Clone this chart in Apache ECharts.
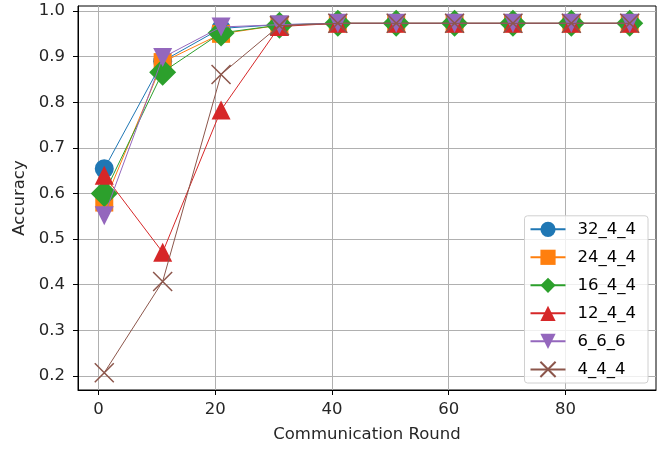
<!DOCTYPE html>
<html>
<head>
<meta charset="utf-8">
<script src="https://cdn.jsdelivr.net/npm/echarts@6/dist/echarts.min.js"></script>
<style>html,body{margin:0;padding:0;background:#fff}#c{width:672px;height:450px}</style>
</head>
<body>
<div id="c"></div>
<script>
const rounds = [1, 11, 21, 31, 41, 51, 61, 71, 81, 91];
const s32_4_4 = [0.654, 0.890, 0.962, 0.970, 0.973, 0.973, 0.973, 0.973, 0.973, 0.973];
const s24_4_4 = [0.580, 0.888, 0.950, 0.969, 0.973, 0.973, 0.973, 0.973, 0.973, 0.973];
const s16_4_4 = [0.600, 0.866, 0.952, 0.969, 0.973, 0.973, 0.973, 0.973, 0.973, 0.973];
const s12_4_4 = [0.640, 0.471, 0.783, 0.966, 0.973, 0.973, 0.973, 0.973, 0.973, 0.973];
const s6_6_6  = [0.551, 0.898, 0.965, 0.970, 0.973, 0.973, 0.973, 0.973, 0.973, 0.973];
const s4_4_4  = [0.207, 0.407, 0.861, 0.968, 0.973, 0.973, 0.973, 0.973, 0.973, 0.973];
const xTicks = [0, 20, 40, 60, 80];
const yTicks = [0.2, 0.3, 0.4, 0.5, 0.6, 0.7, 0.8, 0.9, 1.0];

const names = ['32_4_4', '24_4_4', '16_4_4', '12_4_4', '6_6_6', '4_4_4'];
const values = [s32_4_4, s24_4_4, s16_4_4, s12_4_4, s6_6_6, s4_4_4];
const colors = ['#1f77b4', '#ff7f0e', '#2ca02c', '#d62728', '#9467bd', '#8c564b'];
const symbols = ['circle', 'rect', 'diamond', 'triangle', 'triangle', 'path://M0,0L10,10M10,0L0,10'];
const sizes = [19, 18, 27, 19, 19, 19];
const rotates = [0, 0, 0, 0, 180, 0];

const font = 'DejaVu Sans';
const fs = 16.5;
const series = names.map((n, i) => ({
  name: n,
  type: 'line',
  data: rounds.map((r, j) => [r, values[i][j]]),
  symbol: symbols[i],
  symbolSize: sizes[i],
  symbolRotate: rotates[i],
  showAllSymbol: true,
  lineStyle: { color: colors[i], width: 1 },
  itemStyle: i === 5 ? { color: colors[i], borderColor: colors[i], borderWidth: 1.5 } : { color: colors[i], borderWidth: 0 },
  emphasis: { disabled: true },
  animation: false,
  z: 2 + i
}));

const chart = echarts.init(document.getElementById('c'));
chart.setOption({
  animation: false,
  grid: { left: 78, right: 16, top: 6, bottom: 60, show: true, borderColor: '#000', borderWidth: 1 },
  xAxis: {
    type: 'value', min: -3.5, max: 95.5,
    name: 'Communication Round', nameLocation: 'middle', nameGap: 36,
    nameTextStyle: { fontFamily: font, fontSize: fs, color: '#262626' },
    axisLine: { show: true, onZero: false, lineStyle: { color: '#000' } },
    axisTick: { show: true, inside: false, length: 5, customValues: xTicks, lineStyle: { color: '#000' } },
    axisLabel: { customValues: xTicks, margin: 11, fontFamily: font, fontSize: fs, color: '#262626' },
    splitLine: { show: true, lineStyle: { color: '#b0b0b0', width: 1 } }
  },
  yAxis: {
    type: 'value', min: 0.169, max: 1.011,
    name: 'Accuracy', nameLocation: 'middle', nameGap: 45,
    nameTextStyle: { fontFamily: font, fontSize: fs, color: '#262626' },
    axisLine: { show: true, onZero: false, lineStyle: { color: '#000' } },
    axisTick: { show: true, inside: false, length: 5, customValues: yTicks, lineStyle: { color: '#000' } },
    axisLabel: { customValues: yTicks, margin: 13, fontFamily: font, fontSize: fs, color: '#262626', formatter: v => v.toFixed(1) },
    splitLine: { show: true, lineStyle: { color: '#b0b0b0', width: 1 } }
  },
  legend: {
    orient: 'vertical', right: 24, bottom: 67,
    data: names,
    itemWidth: 35, itemHeight: 19, itemGap: 11,
    padding: [5, 12, 5, 5],
    backgroundColor: 'rgba(255,255,255,0.8)',
    borderColor: '#d0d0d0', borderWidth: 1, borderRadius: 3,
    textStyle: { fontFamily: font, fontSize: fs, color: '#000', padding: [0, 0, 0, 7] }
  },
  series: series
});
</script>
</body>
</html>
